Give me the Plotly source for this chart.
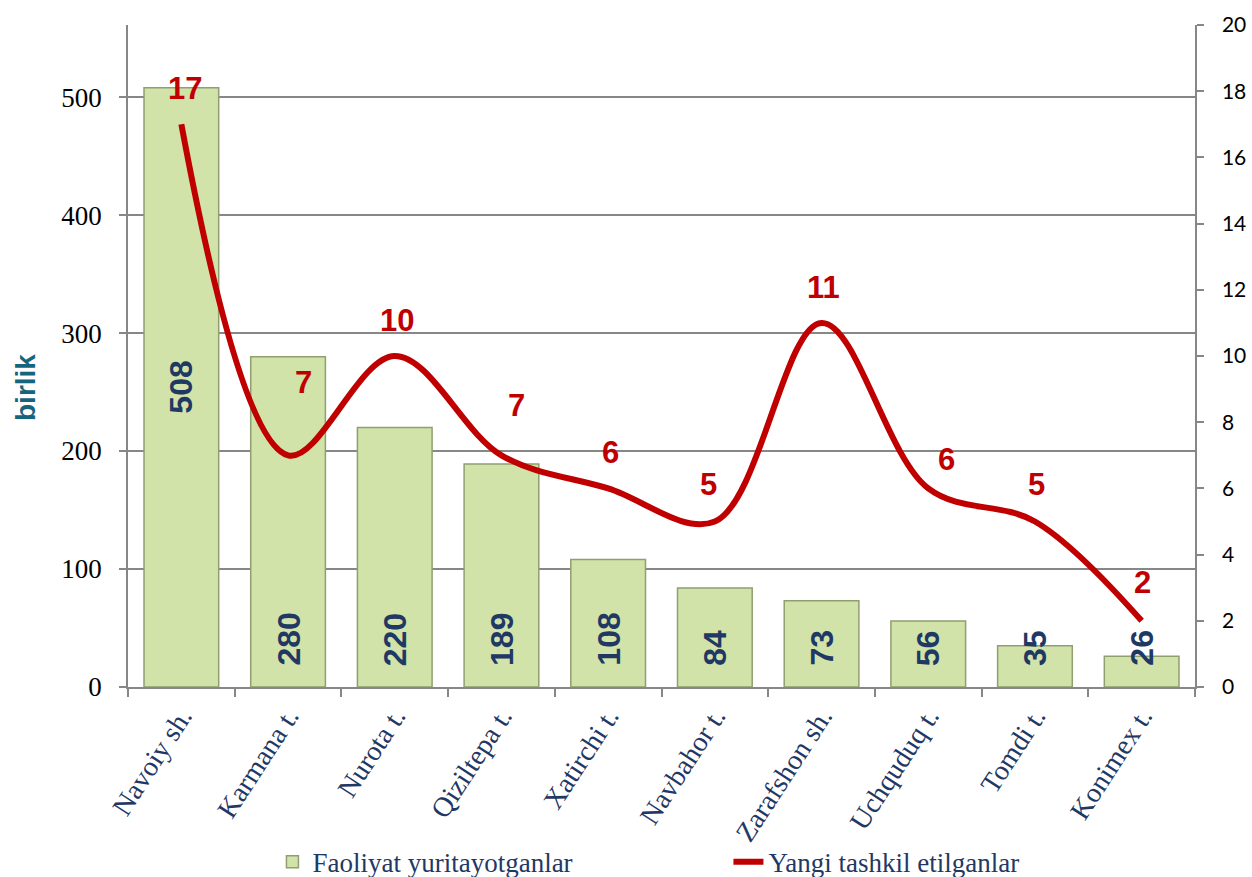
import plotly.graph_objects as go

categories = ["Navoiy sh.", "Karmana t.", "Nurota t.", "Qiziltepa t.", "Xatirchi t.",
              "Navbahor t.", "Zarafshon sh.", "Uchquduq t.", "Tomdi t.", "Konimex t."]
active = [508, 280, 220, 189, 108, 84, 73, 56, 35, 26]
new_created = [17, 7, 10, 7, 6, 5, 11, 6, 5, 2]
bar_name = "Faoliyat yuritayotganlar"
line_name = "Yangi tashkil etilganlar"
y_title = "birlik"

# label placement styling (pixel offsets)
line_lbl_dx = [4, 15, 2, 15, 2, -6, 2, 18, 2, 1]
line_lbl_dy = [36, 73, 36, 50, 36, 37, 35, 29, 37, 38]

NAVY = "#1F3864"
RED = "#C00000"
GRID = "#878787"

fig = go.Figure()
fig.add_trace(go.Bar(
    x=categories, y=active, name=bar_name, width=0.7,
    marker=dict(color="#D1E3A8", line=dict(color="#8F9F70", width=1.5)),
    yaxis="y", hoverinfo="x+y"))
fig.add_trace(go.Scatter(
    x=categories, y=new_created, name=line_name, mode="lines",
    line=dict(color=RED, width=6, shape="spline", smoothing=1.0),
    yaxis="y2"))

annotations = []
for i, (c, v) in enumerate(zip(categories, active)):
    a = dict(x=c, xref="x", yref="y", text="<b>%d</b>" % v,
             textangle=-90, showarrow=False,
             font=dict(family="Liberation Sans", size=32, color=NAVY))
    if i == 0:
        a.update(y=v / 2, yanchor="middle")
    else:
        a.update(y=0, yanchor="bottom", yshift=19)
    annotations.append(a)
for i, (c, v) in enumerate(zip(categories, new_created)):
    annotations.append(dict(x=c, y=v, xref="x", yref="y2", text="<b>%d</b>" % v,
                            showarrow=False, yanchor="middle", xanchor="center",
                            xshift=line_lbl_dx[i], yshift=line_lbl_dy[i],
                            font=dict(family="Liberation Sans", size=31, color=RED)))
annotations.append(dict(x=(25 - 128) / (1195 - 128), y=(687 - 388) / (687 - 25),
                        xref="paper", yref="paper", xanchor="center", yanchor="middle",
                        text="<b>" + y_title + "</b>", textangle=-90, showarrow=False,
                        font=dict(family="Liberation Sans Narrow, Liberation Sans", size=28,
                                  color="#17657D")))

fig.update_layout(
    width=1252, height=877,
    margin=dict(l=128, r=57, t=25, b=190, autoexpand=False),
    paper_bgcolor="white", plot_bgcolor="white",
    showlegend=True,
    xaxis=dict(type="category", showgrid=False, showline=True, linecolor=GRID, linewidth=1.5,
               ticks="outside", tickson="boundaries", ticklen=8, tickcolor=GRID, tickwidth=1.5,
               automargin=False,
               tickangle=-57, tickfont=dict(family="Liberation Serif", size=28, color=NAVY)),
    yaxis=dict(range=[0, 561.1], dtick=100, tick0=0, showgrid=True, gridcolor=GRID, gridwidth=1.5,
               showline=True, linecolor=GRID, linewidth=1.5, ticks="outside", ticklen=7,
               tickcolor=GRID, tickwidth=1.5, zeroline=False, ticklabelstandoff=12,
               automargin=False,
               tickfont=dict(family="Liberation Serif", size=27, color="#000000")),
    yaxis2=dict(range=[0, 20], dtick=2, tick0=0, overlaying="y", side="right", showgrid=False,
                showline=True, linecolor=GRID, linewidth=1.5, ticks="outside", ticklen=7,
                tickcolor=GRID, tickwidth=1.5, zeroline=False, ticklabelstandoff=14,
                automargin=False,
                tickfont=dict(family="Lato", size=21, color="#000000")),
    legend=dict(orientation="h", xref="container", yref="container", x=0.2176, y=0.017,
                xanchor="left", yanchor="middle", entrywidth=411, entrywidthmode="pixels",
                font=dict(family="Liberation Serif", size=27, color=NAVY),
                bgcolor="rgba(0,0,0,0)"),
    annotations=annotations,
)

fig.write_html("out.html", config={"displayModeBar": False},
               post_script="document.body.style.margin='0';document.body.style.overflow='hidden';")
